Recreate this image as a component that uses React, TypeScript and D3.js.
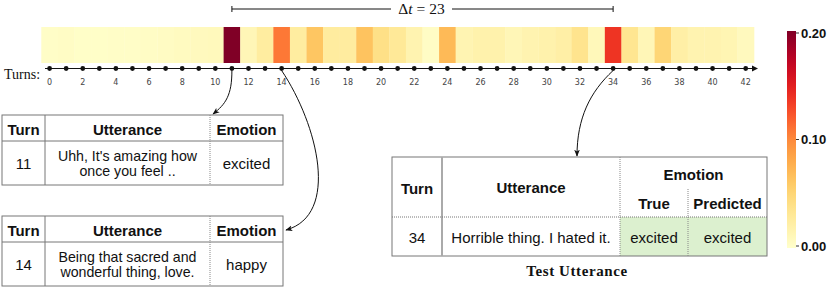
import React from "react";
import * as d3 from "d3";

// turn indices and attention weight per turn
const turns = [
  0, 1, 2, 3, 4, 5, 6, 7, 8, 9, 10, 11, 12, 13, 14, 15, 16, 17, 18, 19, 20, 21,
  22, 23, 24, 25, 26, 27, 28, 29, 30, 31, 32, 33, 34, 35, 36, 37, 38, 39, 40, 41, 42,
];
const attention = [
  0.003, 0.004, 0.002, 0.002, 0.003, 0.003, 0.004, 0.005, 0.007, 0.008, 0.009,
  0.2, 0.012, 0.025, 0.108, 0.025, 0.062, 0.026, 0.026, 0.064, 0.04, 0.03,
  0.016, 0.004, 0.07, 0.015, 0.018, 0.018, 0.012, 0.016, 0.018, 0.022, 0.036,
  0.01, 0.138, 0.034, 0.012, 0.05, 0.022, 0.016, 0.016, 0.014, 0.008,
];
const tickTurns = [0, 2, 4, 6, 8, 10, 12, 14, 16, 18, 20, 22, 24, 26, 28, 30, 32, 34, 36, 38, 40, 42];
const colorTicks = [0, 0.1, 0.2];

const contextRows = [
  { turn: 11, utterance: ["Uhh, It's amazing how", "once you feel .."], emotion: "excited" },
  { turn: 14, utterance: ["Being that sacred and", "wonderful thing, love."], emotion: "happy" },
];
const testRow = { turn: 34, utterance: "Horrible thing. I hated it.", trueEmotion: "excited", predicted: "excited" };

const W = 830;
const H = 289;
const sans = "'Liberation Sans', Arial, sans-serif";
const serif = "'Liberation Serif', 'Times New Roman', serif";

const ContextTable = ({ row, y0 }: { row: typeof contextRows[0]; y0: number }) => {
  const xs = [2, 45, 210, 283];
  const hH = 26;
  const bH = 44;
  const cx = [(xs[0] + xs[1]) / 2, (xs[1] + xs[2]) / 2, (xs[2] + xs[3]) / 2];
  const by = y0 + hH + bH / 2;
  return (
    <g fontFamily={sans} fontSize={15} fill="#111">
      <rect x={xs[0]} y={y0} width={xs[3] - xs[0]} height={hH + bH} fill="#fff" stroke="#777" />
      <line x1={xs[0]} x2={xs[3]} y1={y0 + hH} y2={y0 + hH} stroke="#777" />
      <line x1={xs[1]} x2={xs[1]} y1={y0} y2={y0 + hH + bH} stroke="#777" />
      <line x1={xs[2]} x2={xs[2]} y1={y0} y2={y0 + hH + bH} stroke="#888" strokeDasharray="1,1" />
      <g fontWeight="bold" textAnchor="middle" dominantBaseline="central">
        <text x={cx[0]} y={y0 + hH / 2 + 1}>Turn</text>
        <text x={cx[1]} y={y0 + hH / 2 + 1}>Utterance</text>
        <text x={cx[2]} y={y0 + hH / 2 + 1}>Emotion</text>
      </g>
      <g textAnchor="middle" dominantBaseline="central">
        <text x={cx[0]} y={by}>{row.turn}</text>
        <text x={cx[1]} y={by - 7.5} fontSize={14.2}>{row.utterance[0]}</text>
        <text x={cx[1]} y={by + 8} fontSize={14.2}>{row.utterance[1]}</text>
        <text x={cx[2]} y={by}>{row.emotion}</text>
      </g>
    </g>
  );
};

export default function App() {
  const x = d3.scaleBand<number>().domain(turns).range([41.3, 754]).padding(0);
  const cxOf = (t: number) => (x(t) as number) + x.bandwidth() / 2;
  const color = d3.scaleSequential(d3.interpolateYlOrRd).domain([0, 0.2]);
  const cbY = d3.scaleLinear().domain([0, 0.2]).range([246, 33]);
  const stops = d3.range(0, 1.0001, 0.05);

  const axisY = 68.5;
  const stripTop = 27;
  const stripBottom = 63;

  // test table layout
  const tx = [392, 442, 620, 688, 767];
  const ty = [157, 189, 217, 256];

  const a11 = cxOf(11);
  const a14 = cxOf(14);
  const a34 = cxOf(34);

  return (
    <svg width={W} height={H} style={{ position: "absolute", left: 0, top: 0, background: "#fff" }}>
      <defs>
        <linearGradient id="cb" x1="0" y1="1" x2="0" y2="0">
          {stops.map((s) => (
            <stop key={s} offset={s} stopColor={d3.interpolateYlOrRd(s)} />
          ))}
        </linearGradient>
        <marker id="ah" viewBox="0 0 10 10" refX="9" refY="5" markerWidth="7" markerHeight="7" orient="auto-start-reverse" markerUnits="userSpaceOnUse">
          <path d="M0,1 L10,5 L0,9 L2.5,5 Z" fill="#111" />
        </marker>
      </defs>

      {/* delta t bracket */}
      <g stroke="#111" strokeWidth={1}>
        <line x1={a11} x2={391} y1={9} y2={9} />
        <line x1={452} x2={a34} y1={9} y2={9} />
        <line x1={a11} x2={a11} y1={6} y2={12} />
        <line x1={a34} x2={a34} y1={6} y2={12} />
      </g>
      <text x={421.5} y={14} textAnchor="middle" fontFamily={serif} fontSize={15.5} fill="#111">
        Δ<tspan fontStyle="italic">t</tspan> = 23
      </text>

      {/* heat strip */}
      {turns.map((t, i) => (
        <rect key={t} x={x(t)} y={stripTop} width={x.bandwidth() + 0.3} height={stripBottom - stripTop} fill={color(attention[i])} />
      ))}

      {/* turns axis */}
      <text x={4} y={79} fontFamily={serif} fontSize={14} fill="#111">Turns:</text>
      <line x1={45} x2={753} y1={axisY} y2={axisY} stroke="#111" strokeWidth={1.2} />
      <path d={`M752,${axisY - 3} L758,${axisY} L752,${axisY + 3} Z`} fill="#111" />
      {turns.map((t) => (
        <circle key={t} cx={cxOf(t)} cy={axisY} r={2.4} fill="#111" />
      ))}
      {tickTurns.map((t) => (
        <text key={t} x={cxOf(t)} y={82} textAnchor="middle" dominantBaseline="central" fontFamily="'DejaVu Sans', sans-serif" fontSize={8} fill="#444">
          {t}
        </text>
      ))}

      {/* arrows */}
      <g fill="none" stroke="#111" strokeWidth={1}>
        <path d={`M${a11},${axisY + 2} C${a11},95 ${a11 - 6},104 213,114`} markerEnd="url(#ah)" />
        <path d={`M${a14},${axisY + 2} C318,125 340,215 286,230`} markerEnd="url(#ah)" />
        <path d={`M${a34},${axisY + 2} C590,92 577,118 577,156`} markerEnd="url(#ah)" />
      </g>

      {/* context tables */}
      <ContextTable row={contextRows[0]} y0={115} />
      <ContextTable row={contextRows[1]} y0={216} />

      {/* test utterance table */}
      <g fontFamily={sans} fontSize={15} fill="#111">
        <rect x={tx[2]} y={ty[2]} width={tx[4] - tx[2]} height={ty[3] - ty[2]} fill="#dcf0cf" />
        <rect x={tx[0]} y={ty[0]} width={tx[4] - tx[0]} height={ty[3] - ty[0]} fill="none" stroke="#777" />
        <line x1={tx[1]} x2={tx[1]} y1={ty[0]} y2={ty[3]} stroke="#aaa" strokeWidth={2} />
        <line x1={tx[2]} x2={tx[2]} y1={ty[0]} y2={ty[3]} stroke="#888" strokeDasharray="1,1" />
        <line x1={tx[3]} x2={tx[3]} y1={ty[1]} y2={ty[3]} stroke="#888" strokeDasharray="1,1" />
        <line x1={tx[0]} x2={tx[4]} y1={ty[2]} y2={ty[2]} stroke="#777" strokeDasharray="1,1" />
        <g fontWeight="bold" textAnchor="middle" dominantBaseline="central">
          <text x={(tx[0] + tx[1]) / 2} y={188}>Turn</text>
          <text x={(tx[1] + tx[2]) / 2} y={187}>Utterance</text>
          <text x={(tx[2] + tx[4]) / 2} y={174}>Emotion</text>
          <text x={(tx[2] + tx[3]) / 2} y={203}>True</text>
          <text x={(tx[3] + tx[4]) / 2} y={203}>Predicted</text>
        </g>
        <g textAnchor="middle" dominantBaseline="central">
          <text x={(tx[0] + tx[1]) / 2} y={237.5}>{testRow.turn}</text>
          <text x={(tx[1] + tx[2]) / 2} y={237.5}>{testRow.utterance}</text>
          <text x={(tx[2] + tx[3]) / 2} y={237.5}>{testRow.trueEmotion}</text>
          <text x={(tx[3] + tx[4]) / 2} y={237.5}>{testRow.predicted}</text>
        </g>
      </g>
      <text x={577} y={276} textAnchor="middle" fontFamily={serif} fontWeight="bold" fontSize={15} letterSpacing={0.6} fill="#111">
        Test Utterance
      </text>

      {/* colorbar */}
      <rect x={787} y={31} width={9} height={217} fill="url(#cb)" />
      {colorTicks.map((v) => (
        <g key={v}>
          <line x1={796} x2={799} y1={cbY(v)} y2={cbY(v)} stroke="#333" />
          <text x={801} y={cbY(v)} dominantBaseline="central" fontFamily={sans} fontWeight="bold" fontSize={13} fill="#111">
            {v.toFixed(2)}
          </text>
        </g>
      ))}
    </svg>
  );
}
